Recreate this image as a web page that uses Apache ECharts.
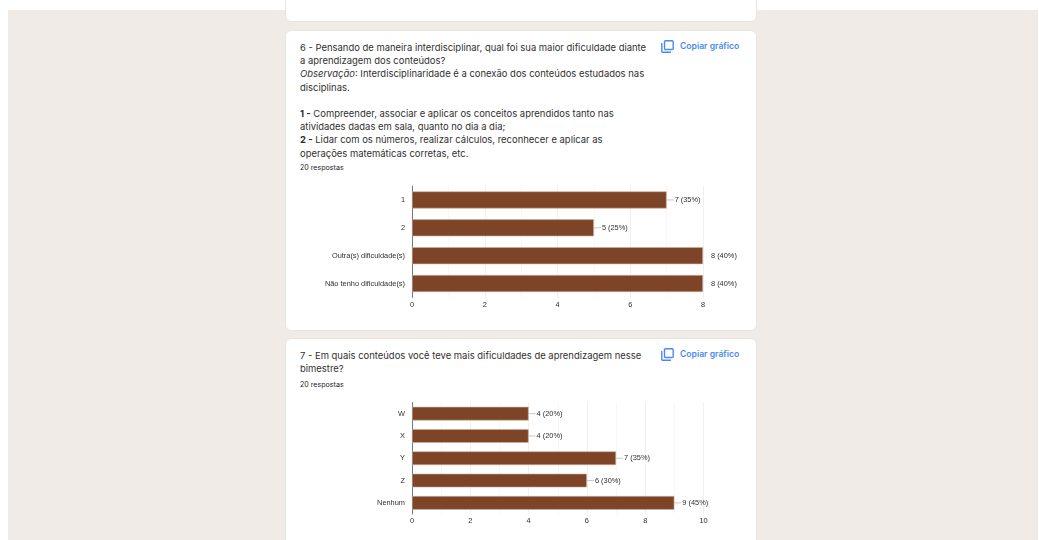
<!DOCTYPE html>
<html lang="pt-BR">
<head>
<meta charset="utf-8">
<title>Respostas</title>
<script src="https://cdn.jsdelivr.net/npm/echarts@6/dist/echarts.min.js"></script>
<style>
  html, body { margin: 0; padding: 0; background: #fff; }
  body { width: 1039px; height: 540px; position: relative; overflow: hidden; font-family: Inter, Roboto, sans-serif; color: #2b2b2b; }
  #page { position: absolute; left: 8px; top: 10px; width: 1030px; height: 530px; background: #f0ebe6; }
  .card { position: absolute; left: 285px; width: 472px; background: #fff; border: 1px solid #e9e5e1; border-radius: 6px; box-sizing: border-box; }
  .text { position: absolute; left: 300px; white-space: nowrap; font-size: 9.45px; line-height: 13.2px; color: #303030; }
  .count { position: absolute; left: 300px; font-size: 7.1px; line-height: 9px; color: #222; }
  .copy { position: absolute; left: 680px; font-size: 8.6px; line-height: 11px; font-weight: 600; color: #4a8af0; }
  .icon { position: absolute; left: 661px; width: 13px; height: 13px; }
  #chart { position: absolute; left: 0; top: 0; width: 1039px; height: 540px; }
</style>
</head>
<body>
<div id="page"></div>
<div class="card" style="top:-20px;height:42px"></div>
<div class="card" style="top:30px;height:301px"></div>
<div class="card" style="top:338px;height:240px"></div>

<div class="text" style="top:41px">6 - Pensando de maneira interdisciplinar, qual foi sua maior dificuldade diante<br>a aprendizagem dos conteúdos?<br><i>Observação</i>: Interdisciplinaridade é a conexão dos conteúdos estudados nas<br>disciplinas.<br><br><b>1 -</b> Compreender, associar e aplicar os conceitos aprendidos tanto nas<br>atividades dadas em sala, quanto no dia a dia;<br><b>2 -</b> Lidar com os números, realizar cálculos, reconhecer e aplicar as<br>operações matemáticas corretas, etc.</div>
<div class="count" style="top:163px">20 respostas</div>
<div class="text" style="top:349px">7 - Em quais conteúdos você teve mais dificuldades de aprendizagem nesse<br>bimestre?</div>
<div class="count" style="top:380px">20 respostas</div>

<svg class="icon" style="top:40px" viewBox="0 0 13 13" fill="none" stroke="#4a8af0" stroke-width="1.4"><rect x="3.5" y="0.8" width="8.7" height="8.7" rx="1"/><path d="M0.8 3v8.2a1 1 0 0 0 1 1H10"/></svg>
<div class="copy" style="top:41px">Copiar gráfico</div>
<svg class="icon" style="top:348px" viewBox="0 0 13 13" fill="none" stroke="#4a8af0" stroke-width="1.4"><rect x="3.5" y="0.8" width="8.7" height="8.7" rx="1"/><path d="M0.8 3v8.2a1 1 0 0 0 1 1H10"/></svg>
<div class="copy" style="top:349px">Copiar gráfico</div>

<div id="chart"></div>
<script>
// Responses to question 6
const q6Categories = ['1', '2', 'Outra(s) dificuldade(s)', 'Não tenho dificuldade(s)'];
const q6Values = [7, 5, 8, 8];
const q6Labels = ['7 (35%)', '5 (25%)', '8 (40%)', '8 (40%)'];
const q6Max = 8;

// Responses to question 7
const q7Categories = ['W', 'X', 'Y', 'Z', 'Nenhum'];
const q7Values = [4, 4, 7, 6, 9];
const q7Labels = ['4 (20%)', '4 (20%)', '7 (35%)', '6 (30%)', '9 (45%)'];
const q7Max = 10;

const BAR = '#7d4427';
const BAR_EDGE = '#c9b2a4';
const TEXT = '#2e2e2e';
const FONT = 'Liberation Sans, Arial, sans-serif';

function xAxis(index, max) {
  return {
    type: 'value', gridIndex: index, min: 0, max: max, interval: 2,
    axisLine: { show: false }, axisTick: { show: false },
    axisLabel: { fontFamily: FONT, fontSize: 7.4, color: TEXT, margin: 3.5, hideOverlap: false },
    splitLine: { show: true, lineStyle: { color: '#f0f0f0', width: 1 } },
    minorTick: { show: false, splitNumber: 2 },
    minorSplitLine: { show: true, lineStyle: { color: '#f7f7f7', width: 1 } }
  };
}

function yAxis(index, categories) {
  return {
    type: 'category', gridIndex: index, data: categories, inverse: true,
    axisLine: { show: true, onZero: false, lineStyle: { color: '#777', width: 1 } },
    axisTick: { show: false }, splitLine: { show: false },
    axisLabel: { fontFamily: FONT, fontSize: 7.4, color: TEXT, margin: 7, interval: 0 }
  };
}

function barSeries(index, values, labels, width) {
  return {
    type: 'bar', xAxisIndex: index, yAxisIndex: index, data: values,
    barWidth: width, silent: true, animation: false, z: 3,
    itemStyle: { color: BAR, borderColor: BAR_EDGE, borderWidth: 0.6 },
    label: {
      show: true, position: 'right', distance: 8,
      fontFamily: FONT, fontSize: 7.4, color: TEXT,
      formatter: function (p) { return labels[p.dataIndex]; }
    }
  };
}

// Short leader from a bar's end to its label, clipped at the plot edge
function leaderSeries(index, values) {
  return {
    type: 'custom', xAxisIndex: index, yAxisIndex: index, silent: true, animation: false, z: 2, clip: true,
    data: values.map(function (v, i) { return [v, i]; }),
    encode: { x: 0, y: 1 },
    renderItem: function (params, api) {
      const p = api.coord([api.value(0), api.value(1)]);
      return { type: 'line', shape: { x1: p[0], y1: p[1], x2: p[0] + 7, y2: p[1] }, style: { stroke: '#c8c8c8', lineWidth: 1 } };
    }
  };
}

const chart = echarts.init(document.getElementById('chart'), null, { renderer: 'canvas' });
chart.setOption({
  backgroundColor: 'transparent',
  animation: false,
  grid: [
    { left: 412, width: 291, top: 186, height: 111.5, containLabel: false },
    { left: 412, width: 291.5, top: 402.5, height: 111.5, containLabel: false }
  ],
  xAxis: [xAxis(0, q6Max), xAxis(1, q7Max)],
  yAxis: [yAxis(0, q6Categories), yAxis(1, q7Categories)],
  series: [
    leaderSeries(0, q6Values), barSeries(0, q6Values, q6Labels, 17),
    leaderSeries(1, q7Values), barSeries(1, q7Values, q7Labels, 13.7)
  ]
});
</script>
</body>
</html>
